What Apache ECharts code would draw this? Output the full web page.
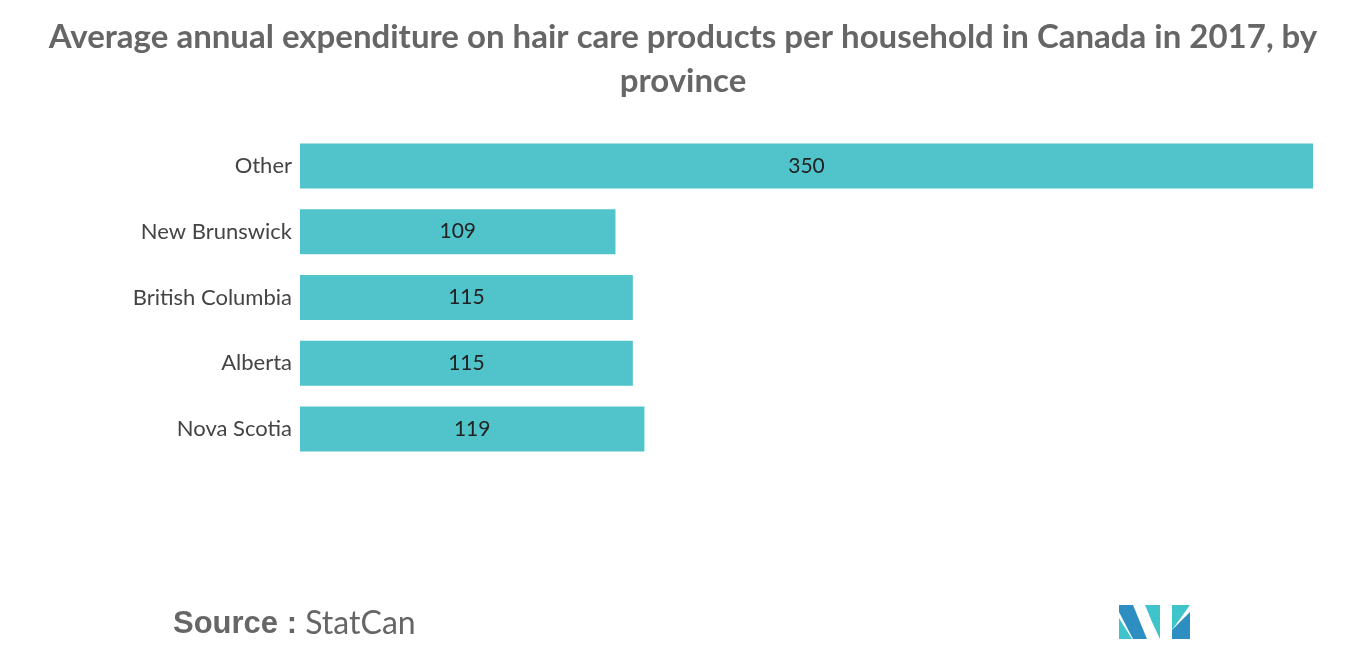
<!DOCTYPE html>
<html>
<head>
<meta charset="utf-8">
<script src="https://cdn.jsdelivr.net/npm/echarts@6/dist/echarts.min.js"></script>
<style>html,body{margin:0;padding:0;background:#fff}#chart{width:1366px;height:655px}</style>
</head>
<body>
<div id="chart"></div>
<script>
var provinces = ['Nova Scotia', 'Alberta', 'British Columbia', 'New Brunswick', 'Other'];
var spending = [119, 115, 115, 109, 350];

var chart = echarts.init(document.getElementById('chart'));

var option = {
  textStyle: { fontFamily: 'Lato, "Open Sans", sans-serif' },
  title: {
    text: 'Average annual expenditure on hair care products per household in Canada in 2017, by\nprovince',
    left: 'center',
    top: 10,
    textStyle: { fontSize: 33, fontWeight: 'bold', color: '#666', lineHeight: 44 }
  },
  grid: { left: 300, right: 53, top: 133, height: 329 },
  xAxis: {
    type: 'value', min: 0, max: 350,
    show: false
  },
  yAxis: {
    type: 'category',
    data: provinces,
    axisLine: { show: false },
    axisTick: { show: false },
    axisLabel: { fontSize: 22, color: '#444', margin: 8 }
  },
  series: [{
    type: 'bar',
    data: spending,
    barWidth: 45,
    itemStyle: { color: '#50c4ca' },
    label: { show: true, position: 'inside', fontSize: 21, color: '#222' }
  }],
  graphic: [
    {
      type: 'text', left: 173, top: 608,
      style: {
        text: '{b|Source :} StatCan',
        rich: { b: { fontWeight: 'bold', fontSize: 31, fill: '#666' } },
        font: '32px Lato, sans-serif', fill: '#666'
      }
    },
    { type: 'polygon', shape: { points: [[1119,605],[1133,605],[1147,639],[1133,639],[1119,612]] }, style: { fill: '#2d8ec1' } },
    { type: 'polygon', shape: { points: [[1119,618],[1132,639],[1119,639]] }, style: { fill: '#40c4cb' } },
    { type: 'polygon', shape: { points: [[1145,605],[1160,605],[1160,639],[1152,622]] }, style: { fill: '#40c4cb' } },
    { type: 'polygon', shape: { points: [[1172,605],[1190,605],[1172,630]] }, style: { fill: '#40c4cb' } },
    { type: 'polygon', shape: { points: [[1172,630],[1190,612],[1190,639],[1172,639]] }, style: { fill: '#2d8ec1' } }
  ]
};

chart.setOption(option);
window.addEventListener('resize', function () { chart.resize(); });
</script>
</body>
</html>
